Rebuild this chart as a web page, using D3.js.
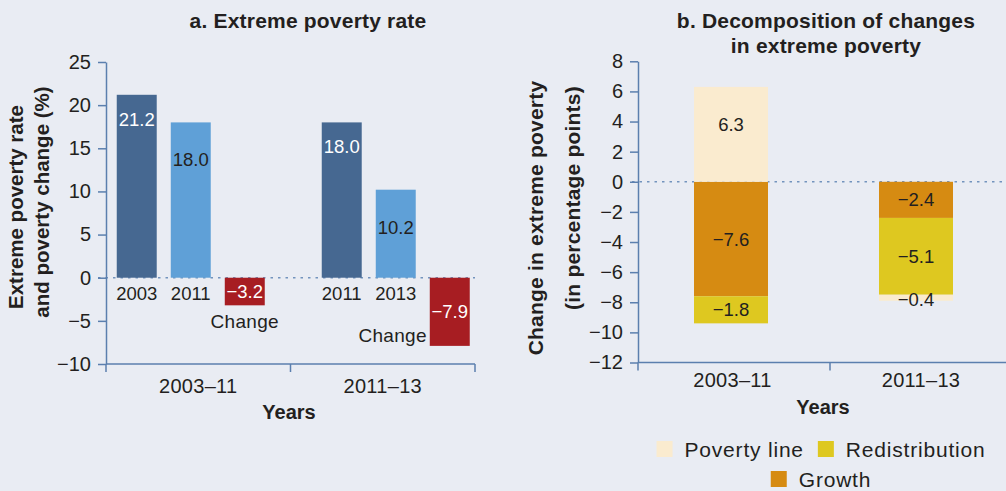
<!DOCTYPE html>
<html><head><meta charset="utf-8">
<script src="https://cdn.jsdelivr.net/npm/d3@7"></script>
<style>
body{margin:0;background:#e9ecf3}
svg{display:block}
text{font-family:"Liberation Sans",Arial,sans-serif;fill:#231f20}
</style>
</head><body>
<svg id="c" width="1006" height="491"></svg>
<script>
// ---------- data ----------
const groups = ["2003–11", "2011–13"];
const startYears = ["2003", "2011"];
const endYears = ["2011", "2013"];
const rateStart = [21.2, 18.0];
const rateEnd = [18.0, 10.2];
const rateChange = [-3.2, -7.9];
const leftTicks = [25, 20, 15, 10, 5, 0, -5, -10];

const components = ["Poverty line", "Growth", "Redistribution"];
const povertyLine = [6.3, -0.4];
const growth = [-7.6, -2.4];
const redistribution = [-1.8, -5.1];
const rightTicks = [8, 6, 4, 2, 0, -2, -4, -6, -8, -10, -12];

// ---------- styles ----------
const axisColor = "#5b7fae";
const zeroColor = "#7393bd";
const textColor = "#231f20";
const cDark = "#466891", cLight = "#5fa0d7", cRed = "#a71d22";
const compColor = {"Poverty line": "#faebcf", "Growth": "#d68b12", "Redistribution": "#dec820"};
const fmt = d3.format(".1f");

const svg = d3.select("#c");
svg.append("rect").attr("width", 1006).attr("height", 491).attr("fill", "#e9ecf3");

// ================= Panel a =================
const yL = d3.scaleLinear().domain([-10, 25]).range([364, 62]);
const x0L = d3.scaleBand().domain(groups).range([106, 475]);
const x1L = d3.scaleBand().domain(["start", "end", "change"]).range([0, 148]).paddingInner(0.26);
const shiftL = [-7.5, 13];
const blockL = (i) => x0L(groups[i]) + x0L.bandwidth() / 2 + shiftL[i] - 74;

const barsL = [];
groups.forEach((g, i) => {
  barsL.push({i, key: "start", v: rateStart[i], year: startYears[i], color: cDark, labelColor: "#fff"});
  barsL.push({i, key: "end", v: rateEnd[i], year: endYears[i], color: cLight, labelColor: textColor});
  barsL.push({i, key: "change", v: rateChange[i], year: null, color: cRed, labelColor: "#fff"});
});
const bxL = d => blockL(d.i) + x1L(d.key);

const gA = svg.append("g");
gA.append("line").attr("x1", 98).attr("x2", x0L.range()[1]).attr("y1", yL(0)).attr("y2", yL(0))
  .attr("stroke", zeroColor).attr("stroke-width", 1.5).attr("stroke-dasharray", "2.5,5");
gA.selectAll("rect.bar").data(barsL).join("rect").attr("class", "bar")
  .attr("x", bxL).attr("width", x1L.bandwidth())
  .attr("y", d => yL(Math.max(0, d.v)))
  .attr("height", d => Math.abs(yL(d.v) - yL(0)))
  .attr("fill", d => d.color);
gA.selectAll("text.val").data(barsL).join("text").attr("class", "val")
  .attr("x", d => bxL(d) + x1L.bandwidth() / 2)
  .attr("y", d => d.key === "change" ? (yL(0) + yL(d.v)) / 2 + 6.5 : yL(d.v) + (d.key === "start" ? 31 : 44))
  .attr("text-anchor", "middle").attr("font-size", 18.5)
  .style("fill", d => d.labelColor).text(d => fmt(d.v));
gA.selectAll("text.yr").data(barsL.filter(d => d.year)).join("text").attr("class", "yr")
  .attr("x", d => bxL(d) + x1L.bandwidth() / 2).attr("y", yL(0) + 22)
  .attr("text-anchor", "middle").attr("font-size", 18.5).text(d => d.year);
gA.selectAll("text.chg").data(barsL.filter(d => d.key === "change")).join("text").attr("class", "chg")
  .attr("x", d => Math.abs(d.v) < 5 ? bxL(d) + x1L.bandwidth() / 2 : bxL(d) - 3)
  .attr("y", d => Math.abs(d.v) < 5 ? yL(d.v) + 23 : yL(d.v) - 3.5)
  .attr("text-anchor", d => Math.abs(d.v) < 5 ? "middle" : "end")
  .attr("font-size", 19).style("letter-spacing", "0.3px").text("Change");

const axL = gA.append("g").attr("transform", "translate(106,0)")
  .call(d3.axisLeft(yL).tickValues(leftTicks).tickFormat(d3.format("d")).tickSize(8).tickSizeOuter(0).tickPadding(7));
axL.selectAll("path,line").attr("stroke", axisColor).attr("stroke-width", 1.5);
axL.selectAll("text").attr("font-size", 20).style("font-family", '"Liberation Sans",Arial,sans-serif').style("fill", textColor);
const xbL = [x0L(groups[0]), x0L(groups[1]), x0L.range()[1]];
gA.append("line").attr("x1", xbL[0]).attr("x2", xbL[2]).attr("y1", yL(-10)).attr("y2", yL(-10))
  .attr("stroke", axisColor).attr("stroke-width", 1.5);
gA.selectAll("line.xt").data(xbL).join("line").attr("class", "xt")
  .attr("x1", d => d).attr("x2", d => d).attr("y1", yL(-10)).attr("y2", yL(-10) + 8)
  .attr("stroke", axisColor).attr("stroke-width", 1.5);
gA.selectAll("text.grp").data(groups).join("text").attr("class", "grp")
  .attr("x", d => x0L(d) + x0L.bandwidth() / 2).attr("y", 393)
  .attr("text-anchor", "middle").attr("font-size", 20).style("letter-spacing", "0.3px").text(d => d);
gA.append("text").attr("x", 289).attr("y", 419).attr("text-anchor", "middle")
  .attr("font-size", 20).attr("font-weight", "bold").text("Years");
gA.append("text").attr("x", 308).attr("y", 28).attr("text-anchor", "middle")
  .attr("font-size", 21).attr("font-weight", "bold").style("letter-spacing", "0.2px").text("a. Extreme poverty rate");
gA.append("text").attr("transform", "translate(23,207) rotate(-90)").attr("text-anchor", "middle")
  .attr("font-size", 20.5).attr("font-weight", "bold").text("Extreme poverty rate");
gA.append("text").attr("transform", "translate(49,202) rotate(-90)").attr("text-anchor", "middle")
  .attr("font-size", 20.5).attr("font-weight", "bold").text("and poverty change (%)");

// ================= Panel b =================
const yR = d3.scaleLinear().domain([-12, 8]).range([362.5, 61.3]);
const x0R = d3.scaleBand().domain(groups).range([638, 1022]);
const shiftR = [-3, -10];
const barW = 74;
const rowsR = groups.map((g, i) => ({group: g, i, "Poverty line": povertyLine[i], "Growth": growth[i], "Redistribution": redistribution[i]}));
const stack = d3.stack().keys(["Growth", "Redistribution", "Poverty line"]).offset(d3.stackOffsetDiverging);
const series = stack(rowsR);
const segs = [];
series.forEach(s => s.forEach(d => segs.push({key: s.key, i: d.data.i, d0: d[0], d1: d[1], v: d.data[s.key]})));
const bxR = d => x0R(groups[d.i]) + x0R.bandwidth() / 2 + shiftR[d.i] - barW / 2;

const gB = svg.append("g");
gB.append("line").attr("x1", 632).attr("x2", 1006).attr("y1", yR(0)).attr("y2", yR(0))
  .attr("stroke", zeroColor).attr("stroke-width", 1.5).attr("stroke-dasharray", "2.5,5");
gB.selectAll("rect.seg").data(segs).join("rect").attr("class", "seg")
  .attr("x", bxR).attr("width", barW)
  .attr("y", d => yR(Math.max(d.d0, d.d1)))
  .attr("height", d => Math.abs(yR(d.d0) - yR(d.d1)))
  .attr("fill", d => compColor[d.key]);
gB.selectAll("text.sv").data(segs).join("text").attr("class", "sv")
  .attr("x", d => bxR(d) + barW / 2)
  .attr("y", d => {
    if (Math.abs(d.v) < 1) return yR(d.d1) + 11.5;
    return yR((d.d0 + d.d1) / 2) + 6.5 + (d.v > 0 ? -10 : 0);
  })
  .attr("text-anchor", "middle").attr("font-size", 18.5).text(d => fmt(d.v));

const axR = gB.append("g").attr("transform", "translate(638,0)")
  .call(d3.axisLeft(yR).tickValues(rightTicks).tickFormat(d3.format("d")).tickSize(8).tickSizeOuter(0).tickPadding(7));
axR.selectAll("path,line").attr("stroke", axisColor).attr("stroke-width", 1.5);
axR.selectAll("text").attr("font-size", 20).style("font-family", '"Liberation Sans",Arial,sans-serif').style("fill", textColor);
const xbR = [x0R(groups[0]), x0R(groups[1]), x0R.range()[1]];
gB.append("line").attr("x1", xbR[0]).attr("x2", xbR[2]).attr("y1", yR(-12)).attr("y2", yR(-12))
  .attr("stroke", axisColor).attr("stroke-width", 1.5);
gB.selectAll("line.xt").data(xbR).join("line").attr("class", "xt")
  .attr("x1", d => d).attr("x2", d => d).attr("y1", yR(-12)).attr("y2", yR(-12) + 8)
  .attr("stroke", axisColor).attr("stroke-width", 1.5);
gB.selectAll("text.grp").data(groups).join("text").attr("class", "grp")
  .attr("x", (d, i) => x0R(d) + x0R.bandwidth() / 2 + shiftR[i] / 2).attr("y", 387)
  .attr("text-anchor", "middle").attr("font-size", 20).style("letter-spacing", "0.3px").text(d => d);
gB.append("text").attr("x", 823).attr("y", 414).attr("text-anchor", "middle")
  .attr("font-size", 20).attr("font-weight", "bold").text("Years");
gB.append("text").attr("x", 826).attr("y", 28).attr("text-anchor", "middle")
  .attr("font-size", 21).attr("font-weight", "bold").style("letter-spacing", "0.2px").text("b. Decomposition of changes");
gB.append("text").attr("x", 826).attr("y", 53).attr("text-anchor", "middle")
  .attr("font-size", 21).attr("font-weight", "bold").style("letter-spacing", "0.2px").text("in extreme poverty");
gB.append("text").attr("transform", "translate(543,218) rotate(-90)").attr("text-anchor", "middle")
  .attr("font-size", 21).attr("font-weight", "bold").style("letter-spacing", "0.2px").text("Change in extreme poverty");
gB.append("text").attr("transform", "translate(580,198) rotate(-90)").attr("text-anchor", "middle")
  .attr("font-size", 21).attr("font-weight", "bold").style("letter-spacing", "0.2px").text("(in percentage points)");

// legend
const legendRows = [["Poverty line", "Redistribution"], ["Growth"]];
const legendCenter = 821, sw = 16, swGap = 12, itemGap = 14;
legendRows.forEach((row, r) => {
  const cy = 449 + r * 30;
  const g = gB.append("g");
  let x = 0;
  row.forEach(name => {
    g.append("rect").attr("x", x).attr("y", cy - sw / 2).attr("width", sw).attr("height", sw).attr("fill", compColor[name]);
    const t = g.append("text").attr("x", x + sw + swGap).attr("y", cy + 7.5).attr("font-size", 21)
      .style("letter-spacing", "0.8px").text(name);
    x += sw + swGap + t.node().getComputedTextLength() + itemGap;
  });
  const total = x - itemGap;
  g.attr("transform", `translate(${legendCenter - total / 2},0)`);
});
</script>
</body></html>
